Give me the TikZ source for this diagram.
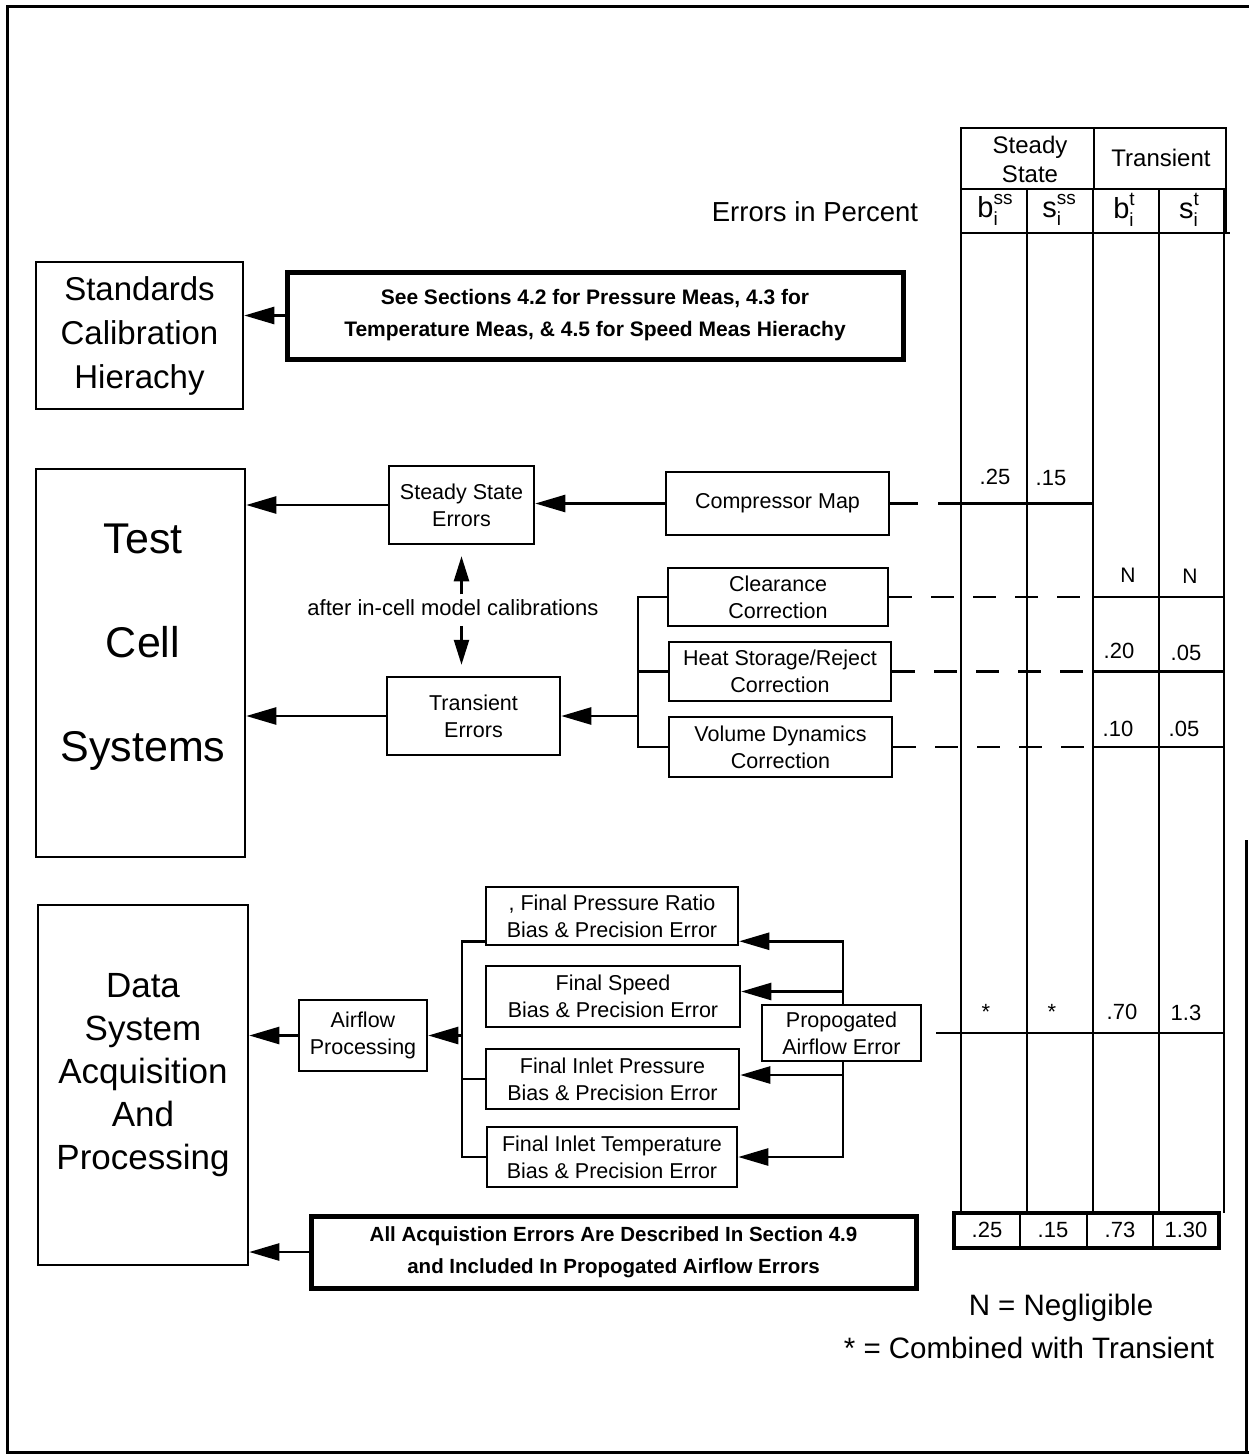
\documentclass[tikz,border=0pt]{standalone}
\usepackage{fontspec}
\setmainfont{Liberation Sans}
\usetikzlibrary{arrows.meta,calc}
\newcommand\symb[2]{#1\rlap{\raisebox{-0.28em}{\fontsize{19}{19}\selectfont i}}\raisebox{0.45em}{\fontsize{19}{19}\selectfont #2}}
\begin{document}
\begin{tikzpicture}[x=1pt,y=1pt,
  bx/.style={draw, line width=2.5pt, inner sep=0pt, align=center, font=\fontsize{21.5}{27}\selectfont},
  thickbx/.style={draw, line width=5pt, inner sep=0pt, align=center, font=\bfseries\fontsize{20.5}{32}\selectfont},
  txt/.style={inner sep=0pt, align=center},
  arr/.style={line width=2.5pt, -{Triangle[length=30pt,width=17pt]}},
  arrs/.style={line width=2.5pt, -{Triangle[length=25pt,width=15pt]}},
  ln/.style={line width=2.5pt},
  dsh/.style={line width=2.5pt, dash pattern=on 23pt off 19pt},
  tbl/.style={line width=2.5pt},
  val/.style={inner sep=0pt, font=\fontsize{22}{22}\selectfont},
  sm/.style={inner sep=0pt, font=\fontsize{21}{21}\selectfont},
  hd/.style={inner sep=0pt, align=center, font=\fontsize{24}{29}\selectfont},
  leg/.style={inner sep=0pt, font=\fontsize{29.5}{30}\selectfont}]
\useasboundingbox (0,0) rectangle (1249,-1455);
% frame
\draw[line width=3pt] (1249,-7) -- (7,-7) -- (7,-1452) -- (1249,-1452);
\draw[line width=3pt] (1246,-840) -- (1246,-1452);

% left column boxes
\node[bx, minimum width=207pt, minimum height=147pt, font=\fontsize{33}{44}\selectfont] (std) at (139.5,-335.5) {Standards\\Calibration\\Hierachy};
\node[bx, minimum width=209pt, minimum height=388pt] (test) at (140.5,-663) {};
\node[txt, font=\fontsize{43}{104}\selectfont] (testtxt) at (143,-647) {Test\\Cell\\Systems};
\node[bx, minimum width=210pt, minimum height=360pt] (data) at (143,-1085) {};
\node[txt, font=\fontsize{35}{43}\selectfont] (datatxt) at (143,-1075) {Data\\System\\Acquisition\\And\\Processing};

% top note
\node[thickbx, minimum width=616pt, minimum height=87pt, font=\bfseries\fontsize{21}{32}\selectfont] (see) at (595,-315.5) {See Sections 4.2 for Pressure Meas, 4.3 for\\Temperature Meas, \& 4.5 for Speed Meas Hierachy};
\draw[arr] (see.west) -- (see.west -| std.east);

% test cell section
\node[bx, minimum width=145pt, minimum height=78pt] (sse) at (461.5,-505) {Steady State\\Errors};
\node[bx, minimum width=223pt, minimum height=63pt] (cm) at (777.5,-503.5) {Compressor Map};
\node[bx, minimum width=173pt, minimum height=78pt] (te) at (473.5,-716) {Transient\\Errors};
\node[bx, minimum width=220pt, minimum height=58pt] (cc) at (778,-597) {Clearance\\Correction};
\node[bx, minimum width=222pt, minimum height=59pt] (hs) at (780,-671.5) {Heat Storage/Reject\\Correction};
\node[bx, minimum width=223pt, minimum height=60pt] (vd) at (780.5,-747) {Volume Dynamics\\Correction};
\node[txt, font=\fontsize{22}{22}\selectfont] (calib) at (453,-608) {after in-cell model calibrations};

\draw[arr] (sse.west) -- (sse.west -| test.east);
\draw[arr] (cm.west) -- (cm.west -| sse.east);
\draw[arr] (te.west) -- (te.west -| test.east);
\draw[arrs] ($(sse.south)+(0,-49)$) -- ($(sse.south)+(0,-11)$);
\draw[arrs] ($(te.north -| sse.south)+(0,50)$) -- ($(te.north -| sse.south)+(0,11)$);
\coordinate (bk) at (638,0);
\draw[ln] (cc.west) -| (bk |- vd.west) -- (vd.west);
\draw[ln] (hs.west) -- (hs.west -| bk);
\draw[arr] (bk |- te.east) -- (te.east);

% data section
\node[bx, minimum width=128pt, minimum height=71pt] (ap) at (363,-1035.5) {Airflow\\Processing};
\node[bx, minimum width=252pt, minimum height=58pt] (f1) at (612,-916) {, Final Pressure Ratio\\Bias \& Precision Error};
\node[bx, minimum width=254pt, minimum height=61pt] (f2) at (613,-996.5) {Final Speed\\Bias \& Precision Error};
\node[bx, minimum width=253pt, minimum height=60pt] (f3) at (612.5,-1079) {Final Inlet Pressure\\Bias \& Precision Error};
\node[bx, minimum width=250pt, minimum height=60pt] (f4) at (612,-1157) {Final Inlet Temperature\\Bias \& Precision Error};
\node[bx, minimum width=159pt, minimum height=56pt] (pae) at (841.5,-1033) {Propogated\\Airflow Error};
\node[thickbx, minimum width=605pt, minimum height=72pt] (acq) at (613.5,-1252) {All Acquistion Errors Are Described In Section 4.9\\and Included In Propogated Airflow Errors};

\coordinate (lb) at (462,0);
\coordinate (f1in) at ($(f1.south east)+(0,5)$);
\coordinate (f1out) at ($(f1.south west)+(0,5)$);
\draw[ln] (f1out) -| (lb |- f4.west) -- (f4.west);
\draw[ln] ($(f2.west)+(0,3)$) -- ($(f2.west)+(0,3)$ -| lb);
\draw[ln] (f3.west) -- (f3.west -| lb);
\draw[arr] (lb |- ap.east) -- (ap.east);
\draw[arr] (ap.west) -- (ap.west -| data.east);
\coordinate (rb) at (843,0);
\draw[arr] (pae.north -| rb) |- (f1in);
\draw[arr] ($(rb |- f2.east)+(0,5)$) -- ($(f2.east)+(0,5)$);
\draw[arr] ($(rb |- f3.east)+(0,4)$) -- ($(f3.east)+(0,4)$);
\draw[arr] (pae.south -| rb) |- (f4.east);
\draw[arr] (acq.west) -- (acq.west -| data.east);

% table
\node[inner sep=0pt, font=\fontsize{27.5}{28}\selectfont] (eip) at (815,-212) {Errors in Percent};
\draw[tbl] (961,-128) rectangle (1226,-233);
\draw[tbl] (1226,-233) -- (1230,-233);
\draw[tbl] (961,-189) -- (1226,-189);
\draw[tbl] (1094,-128) -- (1094,-189);
\foreach \x in {961,1027,1093,1159,1224} \draw[tbl] (\x,-189) -- (\x,-1213);
\node[hd] (hss) at (1030,-159) {Steady\\State};
\node[hd] (htr) at (1161,-158) {Transient};
\node[inner sep=0pt, font=\fontsize{29}{29}\selectfont] (h1) at (995,-210) {\symb{b}{ss}};
\node[inner sep=0pt, font=\fontsize{29}{29}\selectfont] (h2) at (1059,-210) {\symb{s}{ss}};
\node[inner sep=0pt, font=\fontsize{29}{29}\selectfont] (h3) at (1124,-210) {\symb{b}{t}};
\node[inner sep=0pt, font=\fontsize{29}{29}\selectfont] (h4) at (1189,-210) {\symb{s}{t}};
\coordinate (k2) at (1093,0);
\coordinate (k4) at (1224,0);
\draw[tbl] (cm.east) -- ++(28,0);
\draw[tbl] ($(cm.east)+(48,0)$) -- (cm.east -| k2);
\draw[dsh] (cc.east) -- (cc.east -| k2);
\draw[tbl] (cc.east -| k2) -- (cc.east -| k4);
\draw[dsh] (hs.east) -- (hs.east -| k2);
\draw[tbl] (hs.east -| k2) -- (hs.east -| k4);
\draw[dsh] (vd.east) -- (vd.east -| k2);
\draw[tbl] (vd.east -| k2) -- (vd.east -| k4);
\draw[tbl] ($(pae.east)+(14,0)$) -- (pae.east -| k4);
% values
\node[val] (v1) at (995,-477) {.25};
\node[val] (v2) at (1051,-478) {.15};
\node[sm] (v3) at (1128,-575) {N};
\node[sm] (v4) at (1190,-576) {N};
\node[val] (v5) at (1119,-651) {.20};
\node[val] (v6) at (1186,-653) {.05};
\node[val] (v7) at (1118,-729) {.10};
\node[val] (v8) at (1184,-729) {.05};
\node[val] (v9) at (986,-1012) {*};
\node[val] (v10) at (1052,-1012) {*};
\node[val] (v11) at (1122,-1012) {.70};
\node[val] (v12) at (1186,-1013) {1.3};
% totals
\draw[line width=4pt] (954,-1213) rectangle (1219,-1248);
\foreach \x in {1020,1087,1153} \draw[tbl] (\x,-1213) -- (\x,-1248);
\node[val] (t1) at (987,-1230) {.25};
\node[val] (t2) at (1053,-1230) {.15};
\node[val] (t3) at (1120,-1230) {.73};
\node[val] (t4) at (1186,-1230) {1.30};
% legend
\node[leg] (l1) at (1061,-1308) {N = Negligible};
\node[leg] (l2) at (1029,-1348) {* = Combined with Transient};
\end{tikzpicture}
\end{document}
